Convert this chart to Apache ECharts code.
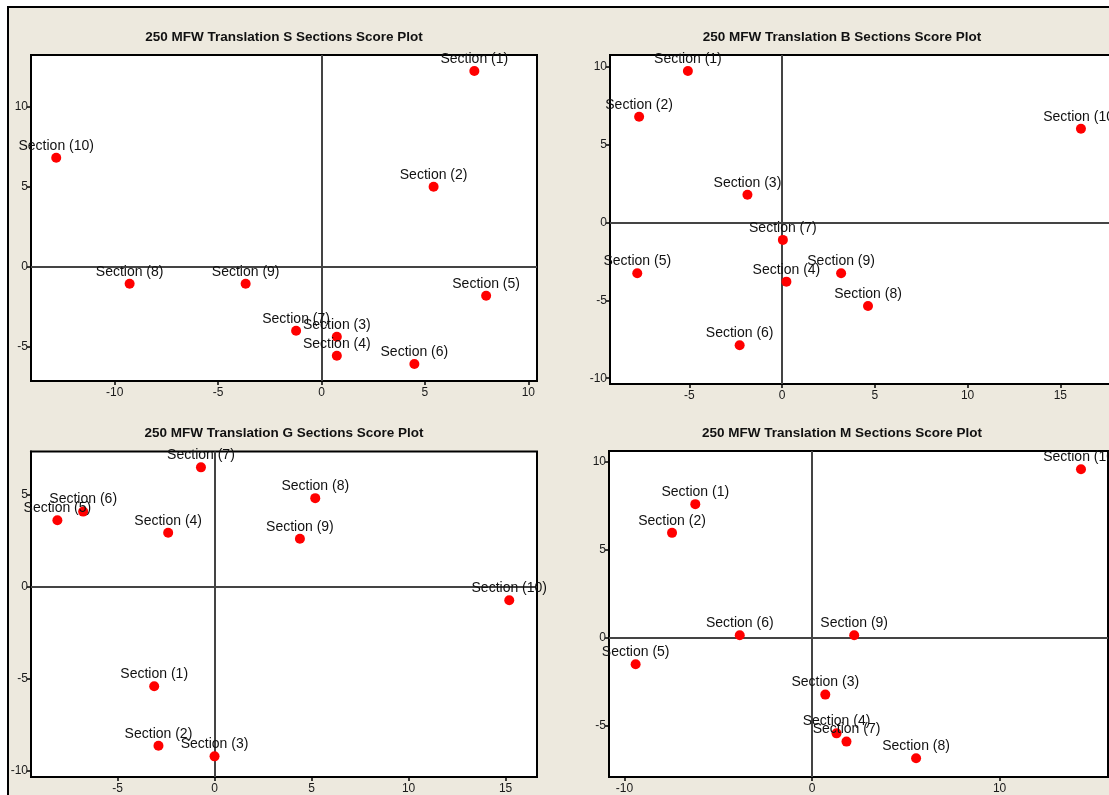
<!DOCTYPE html>
<html>
<head>
<meta charset="utf-8">
<title>250 MFW Translation Sections Score Plots</title>
<script src="https://cdn.jsdelivr.net/npm/echarts@6/dist/echarts.min.js"></script>
<style>
  html, body { margin: 0; padding: 0; background: #ffffff; overflow: hidden; }
  /* the canvas is a little wider than the window so the B plot runs off the right edge */
  #chart { width: 1124px; height: 795px; }
</style>
</head>
<body>
<div id="chart"></div>
<script>
// Section labels shared by every score plot
const sectionNames = ['Section (1)', 'Section (2)', 'Section (3)', 'Section (4)', 'Section (5)',
                      'Section (6)', 'Section (7)', 'Section (8)', 'Section (9)', 'Section (10)'];

// Translation S scores
const sX = [7.39, 5.42, 0.74, 0.74, 7.96, 4.49, -1.23, -9.28, -3.67, -12.83];
const sY = [12.23, 5.00, -4.37, -5.56, -1.81, -6.08, -4.00, -1.06, -1.06, 6.81];
// Translation B scores
const bX = [-5.08, -7.71, -1.87, 0.23, -7.81, -2.29, 0.04, 4.63, 3.18, 16.11];
const bY = [9.72, 6.79, 1.78, -3.80, -3.26, -7.88, -1.12, -5.36, -3.26, 6.02];
// Translation G scores
const gX = [-3.11, -2.89, 0.00, -2.39, -8.10, -6.77, -0.70, 5.19, 4.40, 15.19];
const gY = [-5.41, -8.64, -9.21, 2.91, 3.59, 4.06, 6.46, 4.79, 2.59, -0.75];
// Translation M scores
const mX = [-6.22, -7.46, 0.71, 1.31, -9.40, -3.85, 1.84, 5.55, 2.25, 14.34];
const mY = [7.60, 5.97, -3.22, -5.42, -1.49, 0.15, -5.89, -6.83, 0.15, 9.58];

// Tick labels of each plot
const sTicksX = [-10, -5, 0, 5, 10];
const sTicksY = [-5, 0, 5, 10];
const bTicksX = [-5, 0, 5, 10, 15];
const bTicksY = [-10, -5, 0, 5, 10];
const gTicksX = [-5, 0, 5, 10, 15];
const gTicksY = [-10, -5, 0, 5];
const mTicksX = [-10, 0, 10];
const mTicksY = [-5, 0, 5, 10];

const titles = [
  '250 MFW Translation S Sections Score Plot',
  '250 MFW Translation B Sections Score Plot',
  '250 MFW Translation G Sections Score Plot',
  '250 MFW Translation M Sections Score Plot'
];

// Panel geometry and axis extents
const panels = [
  { xs: sX, ys: sY, tx: sTicksX, ty: sTicksY, grid: { left: 31, top: 55, width: 506, height: 326 },
    xr: [-14.05, 10.42], yr: [-7.14, 13.23], titleX: 284, titleY: 37 },
  { xs: bX, ys: bY, tx: bTicksX, ty: bTicksY, grid: { left: 610, top: 55, width: 506, height: 329 },
    xr: [-9.28, 18.0], yr: [-10.37, 10.75], titleX: 842, titleY: 37 },
  { xs: gX, ys: gY, tx: gTicksX, ty: gTicksY, grid: { left: 31, top: 451.5, width: 506, height: 327.5 },
    xr: [-9.46, 16.62], yr: [-10.33, 7.32], titleX: 284, titleY: 433 },
  { xs: mX, ys: mY, tx: mTicksX, ty: mTicksY, grid: { left: 609, top: 451, width: 499, height: 328 },
    xr: [-10.82, 15.78], yr: [-7.9, 10.62], titleX: 842, titleY: 433 }
];

const FONT = '"Liberation Sans", Arial, sans-serif';
const tickFont = { color: '#1a1a1a', fontSize: 12, fontFamily: FONT };

const grids = [], xAxes = [], yAxes = [], series = [], graphics = [];

// Beige window frame with its black edge
graphics.push({
  type: 'rect', z: -100,
  shape: { x: 8, y: 7, width: 1300, height: 1000 },
  style: { fill: '#EDE9DE', stroke: '#000000', lineWidth: 2 }
});

panels.forEach((p, i) => {
  grids.push(Object.assign({
    show: true, backgroundColor: '#ffffff', borderColor: '#000000', borderWidth: 2
  }, p.grid));

  xAxes.push({
    type: 'value', gridIndex: i, min: p.xr[0], max: p.xr[1], position: 'bottom',
    axisLine: { show: true, onZero: false, lineStyle: { color: '#000', width: 2 } },
    axisTick: { show: true, length: 4, customValues: p.tx, lineStyle: { color: '#000', width: 1.5 } },
    axisLabel: Object.assign({ customValues: p.tx, margin: 6 }, tickFont),
    splitLine: { show: false }
  });
  yAxes.push({
    type: 'value', gridIndex: i, min: p.yr[0], max: p.yr[1], position: 'left',
    axisLine: { show: true, onZero: false, lineStyle: { color: '#000', width: 2 } },
    axisTick: { show: true, length: 4, customValues: p.ty, lineStyle: { color: '#000', width: 1.5 } },
    axisLabel: Object.assign({ customValues: p.ty, margin: 3 }, tickFont),
    splitLine: { show: false }
  });

  series.push({
    type: 'scatter', xAxisIndex: i, yAxisIndex: i,
    symbol: 'circle', symbolSize: 10,
    itemStyle: { color: '#FF0000', opacity: 1 },
    data: sectionNames.map((n, k) => ({ name: n, value: [p.xs[k], p.ys[k]] })),
    label: {
      show: true, position: 'top', distance: 0, formatter: '{b}', opacity: 1,
      color: '#111111', fontSize: 14, fontFamily: FONT
    },
    markLine: {
      silent: true, z: 1, symbol: 'none', animation: false,
      label: { show: false },
      lineStyle: { color: '#444444', width: 2, type: 'solid', opacity: 1 },
      data: [{ xAxis: 0 }, { yAxis: 0 }]
    },
    animation: false
  });

  graphics.push({
    type: 'text', x: p.titleX, y: p.titleY, z: 10,
    style: {
      text: titles[i], fill: '#111111',
      font: 'bold 13.5px ' + FONT,
      align: 'center', verticalAlign: 'middle',
      textAlign: 'center', textVerticalAlign: 'middle'
    }
  });
});

const chart = echarts.init(document.getElementById('chart'), null, { renderer: 'canvas' });
chart.setOption({
  backgroundColor: '#ffffff',
  animation: false,
  grid: grids,
  xAxis: xAxes,
  yAxis: yAxes,
  series: series,
  graphic: { elements: graphics }
});
</script>
</body>
</html>
